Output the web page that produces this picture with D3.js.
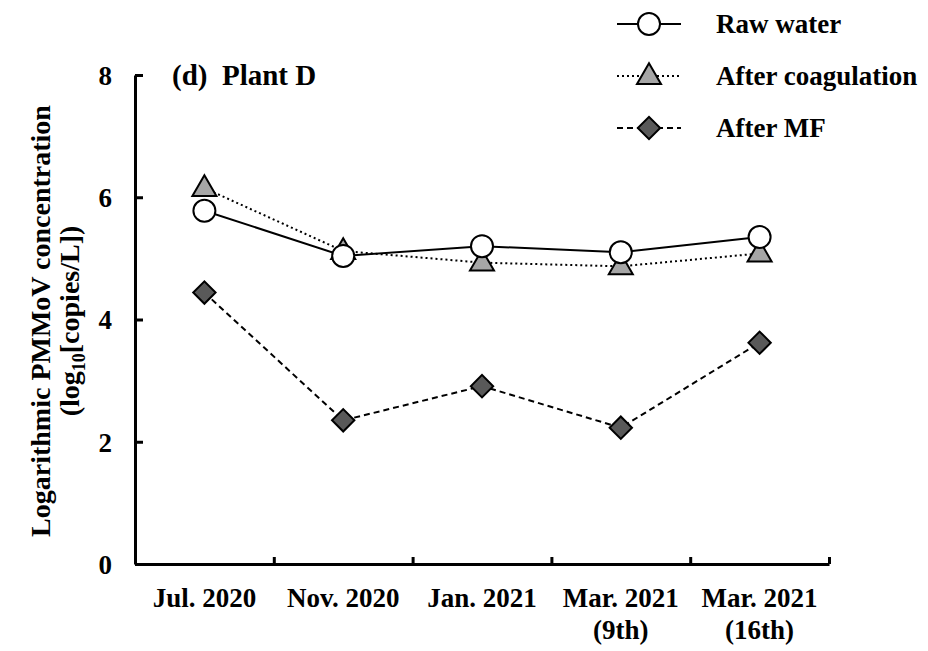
<!DOCTYPE html>
<html>
<head>
<meta charset="utf-8">
<script src="https://cdn.jsdelivr.net/npm/d3@7"></script>
<style>
  body { margin: 0; background: #fff; }
  text { font-family: "Liberation Serif", "Times New Roman", serif; font-weight: bold; fill: #000; }
</style>
</head>
<body>
<div id="chart"></div>
<script>
// categories and values
var dates = ["Jul. 2020", "Nov. 2020", "Jan. 2021", "Mar. 2021", "Mar. 2021"];
var dateNotes = ["", "", "", "(9th)", "(16th)"];
var rawWater = [5.78, 5.04, 5.20, 5.10, 5.35];
var afterCoag = [6.15, 5.12, 4.93, 4.87, 5.08];
var afterMF = [4.44, 2.35, 2.91, 2.23, 3.62];
var yTicks = [0, 2, 4, 6, 8];

var W = 928, H = 651;
var plotLeft = 135, plotRight = 829, plotTop = 75, plotBottom = 564;
var fs = 27;

var svg = d3.select("#chart")
  .append("svg")
    .attr("width", W)
    .attr("height", H);

// scales
var x = d3.scaleBand()
  .domain(d3.range(dates.length))
  .range([plotLeft, plotRight]);
var xEdge = d3.scaleLinear()
  .domain([0, dates.length])
  .range([plotLeft, plotRight]);
var y = d3.scaleLinear()
  .domain([0, 8])
  .range([plotBottom, plotTop]);

function cx(i) { return x(i) + x.bandwidth() / 2; }

// y axis
var yAxis = svg.append("g")
  .attr("transform", "translate(" + plotLeft + ",0)")
  .call(d3.axisLeft(y).tickValues(yTicks).tickSize(-8).tickSizeOuter(0).tickPadding(23));
yAxis.select(".domain").attr("stroke-width", 3);
yAxis.selectAll(".tick line").attr("stroke-width", 3);
yAxis.selectAll(".tick text")
  .attr("font-size", fs)
  .attr("dy", "0.35em")
  .style("font-family", "'Liberation Serif', 'Times New Roman', serif")
  .style("font-weight", "bold");

// x axis: ticks sit between the categories
var xAxis = svg.append("g")
  .attr("transform", "translate(0," + plotBottom + ")")
  .call(d3.axisBottom(xEdge).tickValues(d3.range(1, dates.length + 1)).tickSize(-7).tickSizeOuter(0).tickFormat(""));
xAxis.select(".domain").attr("stroke-width", 3);
xAxis.selectAll(".tick line").attr("stroke-width", 3);

// category labels
svg.append("g").selectAll("text")
  .data(dates)
  .enter()
  .append("text")
    .attr("text-anchor", "middle")
    .attr("font-size", fs)
    .attr("x", function (d, i) { return cx(i); })
    .attr("y", 607)
    .text(function (d) { return d; });
svg.append("g").selectAll("text")
  .data(dateNotes)
  .enter()
  .append("text")
    .attr("text-anchor", "middle")
    .attr("font-size", fs)
    .attr("x", function (d, i) { return cx(i); })
    .attr("y", 639)
    .text(function (d) { return d; });

// y axis title
svg.append("text")
  .attr("transform", "translate(50,321) rotate(-90)")
  .attr("text-anchor", "middle")
  .attr("font-size", 28)
  .text("Logarithmic PMMoV concentration");
var t2 = svg.append("text")
  .attr("transform", "translate(79,321) rotate(-90)")
  .attr("text-anchor", "middle")
  .attr("font-size", 28);
t2.append("tspan").text("(log");
t2.append("tspan").attr("font-size", 18).attr("dy", 6).text("10");
t2.append("tspan").attr("dy", -6).text("[copies/L])");

// panel title
svg.append("text")
  .attr("x", 172)
  .attr("y", 85)
  .attr("font-size", 29)
  .style("white-space", "pre")
  .text("(d)  Plant D");

// lines
var line = d3.line()
  .x(function (d, i) { return cx(i); })
  .y(function (d) { return y(d); });

svg.append("path").datum(rawWater)
  .attr("d", line).attr("fill", "none").attr("stroke", "#000").attr("stroke-width", 2);
svg.append("path").datum(afterCoag)
  .attr("d", line).attr("fill", "none").attr("stroke", "#000").attr("stroke-width", 2)
  .attr("stroke-dasharray", "2,3");
svg.append("path").datum(afterMF)
  .attr("d", line).attr("fill", "none").attr("stroke", "#000").attr("stroke-width", 2)
  .attr("stroke-dasharray", "6,4");

// markers
var tri = d3.symbol().type(d3.symbolTriangle).size(250);
var dia = d3.symbol().type(d3.symbolSquare).size(250); // turned 45deg below

svg.append("g").selectAll("path")
  .data(afterCoag)
  .enter()
  .append("path")
    .attr("d", tri)
    .attr("transform", function (d, i) { return "translate(" + cx(i) + "," + (y(d) + 1) + ")"; })
    .attr("fill", "#a6a6a6").attr("stroke", "#000").attr("stroke-width", 2);

svg.append("g").selectAll("circle")
  .data(rawWater)
  .enter()
  .append("circle")
    .attr("cx", function (d, i) { return cx(i); })
    .attr("cy", function (d) { return y(d); })
    .attr("r", 11)
    .attr("fill", "#fff").attr("stroke", "#000").attr("stroke-width", 2);

svg.append("g").selectAll("path")
  .data(afterMF)
  .enter()
  .append("path")
    .attr("d", dia)
    .attr("transform", function (d, i) { return "translate(" + cx(i) + "," + y(d) + ") rotate(45)"; })
    .attr("fill", "#595959").attr("stroke", "#000").attr("stroke-width", 2);

// legend
var legend = svg.append("g");
var rows = [
  { name: "Raw water", dash: null, mark: "circle" },
  { name: "After coagulation", dash: "2,3", mark: "tri" },
  { name: "After MF", dash: "6,4", mark: "dia" }
];
rows.forEach(function (r, i) {
  var ly = 24 + i * 52;
  legend.append("line")
    .attr("x1", 617).attr("x2", 681).attr("y1", ly).attr("y2", ly)
    .attr("stroke", "#000").attr("stroke-width", 2)
    .attr("stroke-dasharray", r.dash);
  if (r.mark == "circle") {
    legend.append("circle").attr("cx", 649).attr("cy", ly).attr("r", 11)
      .attr("fill", "#fff").attr("stroke", "#000").attr("stroke-width", 2);
  } else if (r.mark == "tri") {
    legend.append("path")
      .attr("d", tri)
      .attr("transform", "translate(649," + (ly + 1) + ")")
      .attr("fill", "#a6a6a6")
      .attr("stroke", "#000").attr("stroke-width", 2);
  } else {
    legend.append("path")
      .attr("d", dia)
      .attr("transform", "translate(649," + ly + ") rotate(45)")
      .attr("fill", "#595959")
      .attr("stroke", "#000").attr("stroke-width", 2);
  }
  legend.append("text")
    .attr("x", 716).attr("y", ly + 9)
    .attr("font-size", fs)
    .text(r.name);
});
</script>
</body>
</html>
